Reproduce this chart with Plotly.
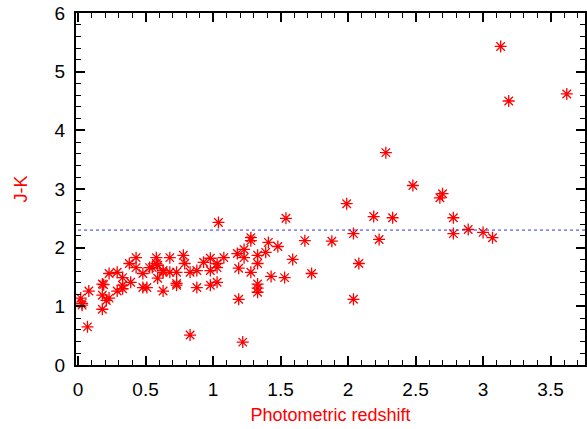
import plotly.graph_objects as go

# Photometric redshift (x) and J-K colour (y)
z_phot = [0.03, 0.02, 0.03, 0.08, 0.07, 0.18, 0.18, 0.18, 0.23, 0.23,
          0.29, 0.29, 0.33, 0.33, 0.39, 0.38, 0.43, 0.43, 0.48, 0.48,
          0.53, 0.58, 0.58, 0.59, 0.63, 0.63, 0.68, 0.68, 0.73, 0.73,
          0.73, 0.78, 0.79, 0.83, 0.83, 0.88, 0.88, 0.93, 0.98, 0.98,
          0.98, 1.03, 1.03, 1.03, 1.08, 1.04, 0.55, 0.63, 0.59, 0.51,
          0.19, 0.33, 0.21,
          1.18, 1.19, 1.19, 1.23, 1.23, 1.22, 1.28, 1.28, 1.28, 1.33,
          1.33, 1.33, 1.33, 1.33, 1.39, 1.41, 1.48, 1.43, 1.53, 1.54,
          1.59, 1.68, 1.73, 1.88, 1.99, 2.04, 2.04, 2.08, 2.19, 2.23,
          2.33, 2.28, 2.48, 2.68, 2.70, 2.78, 2.78, 2.89, 3.00, 3.07,
          3.13, 3.19, 3.62]
j_k = [1.05, 1.14, 1.02, 1.26, 0.65, 0.95, 1.38, 1.19, 1.14, 1.56,
       1.58, 1.26, 1.49, 1.36, 1.41, 1.73, 1.83, 1.66, 1.32, 1.56,
       1.66, 1.83, 1.73, 1.48, 1.26, 1.61, 1.83, 1.58, 1.58, 1.39,
       1.36, 1.87, 1.73, 0.51, 1.58, 1.61, 1.32, 1.75, 1.82, 1.61,
       1.36, 1.41, 1.73, 1.66, 1.83, 2.43, 1.66, 1.58, 1.70, 1.32,
       1.37, 1.30, 1.10,
       1.90, 1.65, 1.12, 1.97, 1.83, 0.39, 2.17, 2.12, 1.58, 1.87,
       1.73, 1.38, 1.31, 1.24, 1.92, 2.09, 2.02, 1.51, 1.49, 2.50,
       1.80, 2.12, 1.56, 2.11, 2.75, 2.24, 1.12, 1.73, 2.53, 2.14,
       2.51, 3.62, 3.06, 2.85, 2.92, 2.51, 2.24, 2.31, 2.26, 2.17,
       5.43, 4.50, 4.62]

threshold = 2.3
x_ticks = [0, 0.5, 1, 1.5, 2, 2.5, 3, 3.5]
x_tick_labels = ["0", "0.5", "1", "1.5", "2", "2.5", "3", "3.5"]
y_ticks = [0, 1, 2, 3, 4, 5, 6]

fig = go.Figure()
fig.add_trace(go.Scatter(
    x=z_phot, y=j_k, mode="markers",
    marker=dict(symbol="asterisk-open", size=10, color="#ff0000",
                line=dict(color="#ff0000", width=1.3)),
    showlegend=False,
))
fig.add_trace(go.Scatter(
    x=[0, 3.76], y=[threshold, threshold], mode="lines",
    line=dict(color="#3333dd", width=1, dash="3px,3px"),
    showlegend=False,
))

font = "Liberation Sans, Arial, Helvetica, sans-serif"
fig.update_layout(
    width=587, height=429,
    margin=dict(l=76, r=2, t=13, b=64),
    paper_bgcolor="white", plot_bgcolor="white",
    font=dict(family=font, size=18, color="black"),
)
fig.update_xaxes(
    range=[-0.015, 3.755], tickvals=x_ticks, ticktext=x_tick_labels,
    showgrid=False, zeroline=False, automargin=False,
    showline=True, linecolor="black", linewidth=2, mirror="ticks",
    ticks="inside", ticklen=9, tickwidth=1.5, tickcolor="black",
    minor=dict(dtick=0.1, ticks="inside", ticklen=5, tickwidth=1, tickcolor="black", showgrid=False),
    title=dict(text="Photometric redshift", font=dict(color="#ff0000", size=18), standoff=10),
    tickfont=dict(size=19), ticklabelstandoff=6,
)
fig.update_yaxes(
    range=[0, 6], tickvals=y_ticks,
    showgrid=False, zeroline=False, automargin=False,
    showline=True, linecolor="black", linewidth=2, mirror="ticks",
    ticks="inside", ticklen=9, tickwidth=1.5, tickcolor="black",
    minor=dict(dtick=0.2, ticks="inside", ticklen=5, tickwidth=1, tickcolor="black", showgrid=False),
    title=dict(text="J-K", font=dict(color="#ff0000", size=18), standoff=22),
    tickfont=dict(size=19), ticklabelstandoff=5,
)

fig.write_html("out.html", config={"displayModeBar": False},
               post_script="document.body.style.margin='0';")
